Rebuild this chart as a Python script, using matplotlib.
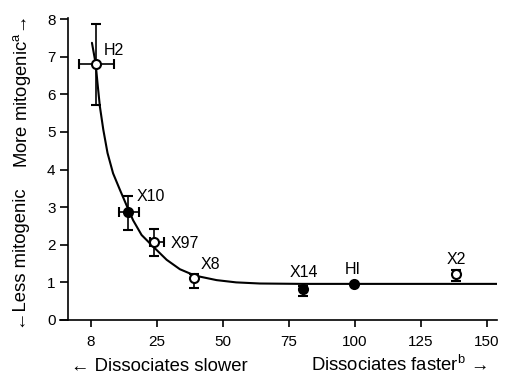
import matplotlib
matplotlib.use("Agg")
import matplotlib.pyplot as plt

plt.rcParams['font.family'] = ['Liberation Sans', 'DejaVu Sans']
plt.rcParams['mathtext.fontset'] = 'custom'
plt.rcParams['mathtext.rm'] = 'Liberation Sans'
plt.rcParams['mathtext.it'] = 'Liberation Sans:italic'

# data points
names = ["H2", "X10", "X97", "X8", "X14", "HI", "X2"]
x_vals = [1.9, 14.1, 24.0, 39.1, 80.4, 99.6, 138.1]
y_vals = [6.82, 2.87, 2.07, 1.11, 0.83, 0.96, 1.23]
y_err_lo = [1.10, 0.47, 0.38, 0.26, 0.20, 0.0, 0.19]
y_err_hi = [1.06, 0.43, 0.36, 0.12, 0.08, 0.0, 0.09]
x_err_lo = [6.3, 3.4, 1.6, 0.0, 0.0, 0.0, 0.0]
x_err_hi = [7.0, 4.2, 3.7, 0.0, 0.0, 0.0, 0.0]
open_marker = [True, False, True, True, False, False, True]

# fitted curve, points
curve_x = [0.4, 1.8, 2.5, 3.4, 4.7, 6.3, 8.4, 11.0, 13.5, 16.0, 19.2, 23.6,
           28.7, 33.7, 39.4, 47.6, 55, 64, 80, 100, 120, 153.8]
curve_y = [7.37, 6.82, 6.30, 5.68, 5.06, 4.44, 3.90, 3.46, 3.05, 2.65, 2.26, 1.95,
           1.60, 1.35, 1.18, 1.06, 1.00, 0.97, 0.96, 0.96, 0.96, 0.96]

x_ticks = [0, 25, 50, 75, 100, 125, 150]
x_tick_labels = ["8", "25", "50", "75", "100", "125", "150"]
y_ticks = [0, 1, 2, 3, 4, 5, 6, 7, 8]

# label offsets (points) from each marker
label_dx = [13, 16.7, 22.1, 12, 0.3, -0.7, 0.7]
label_dy = [6, 7.7, -4.5, 7, 8.4, 7.2, 7.2]

fig = plt.figure(figsize=(5.05, 3.75), dpi=100)
ax = fig.add_axes([0.1188, 0.1467, 0.8654, 0.8053])

ax.plot(curve_x, curve_y, color="black", lw=1.5, zorder=1,
        solid_joinstyle="round", solid_capstyle="round")

for i in range(len(names)):
    fc = "white" if open_marker[i] else "black"
    yerr = [[y_err_lo[i]], [y_err_hi[i]]] if y_err_lo[i] > 0 else None
    xerr = [[x_err_lo[i]], [x_err_hi[i]]] if x_err_lo[i] > 0 else None
    ax.errorbar(x_vals[i], y_vals[i], yerr=yerr, xerr=xerr,
                fmt="o", ms=6.5, mfc=fc, mec="black", mew=1.5,
                ecolor="black", elinewidth=1.2, capsize=3.5, capthick=1.2,
                zorder=2)
    ax.annotate(names[i], (x_vals[i], y_vals[i]),
                xytext=(label_dx[i], label_dy[i]), textcoords="offset points",
                ha="center", va="baseline", fontsize=11.5)

ax.set_xlim(-11.7, 153.8)
ax.set_ylim(0, 8.03)
ax.spines["top"].set_visible(False)
ax.spines["right"].set_visible(False)
ax.spines["left"].set_position(("data", -8.5))
ax.spines["left"].set_linewidth(1.2)
ax.spines["bottom"].set_linewidth(1.2)

ax.set_xticks(x_ticks)
ax.set_xticklabels(x_tick_labels)
ax.set_yticks(y_ticks)
ax.tick_params(axis="x", length=5, width=1.2, pad=5.5, labelsize=11)
ax.tick_params(axis="y", length=5.8, width=1.2, pad=3.5, labelsize=11)

# axis captions
fig.text(71 / 505, 1 - 371 / 375, "\u2190 Dissociates slower",
         ha="left", va="baseline", fontsize=13.3)
fig.text(487 / 505, 1 - 371 / 375, "Dissociates faster$^{\\mathrm{b}}$ \u2192",
         ha="right", va="baseline", fontsize=13.3)
fig.text(22 / 505, 1 - 330 / 375, "\u2190Less mitogenic",
         rotation=90, ha="center", va="bottom", fontsize=13.3)
fig.text(22 / 505, 1 - 17 / 375, "More mitogenic$^{\\mathrm{a}}$\u2192",
         rotation=90, ha="center", va="top", fontsize=13.3)

fig.savefig("out.png", dpi=100)
